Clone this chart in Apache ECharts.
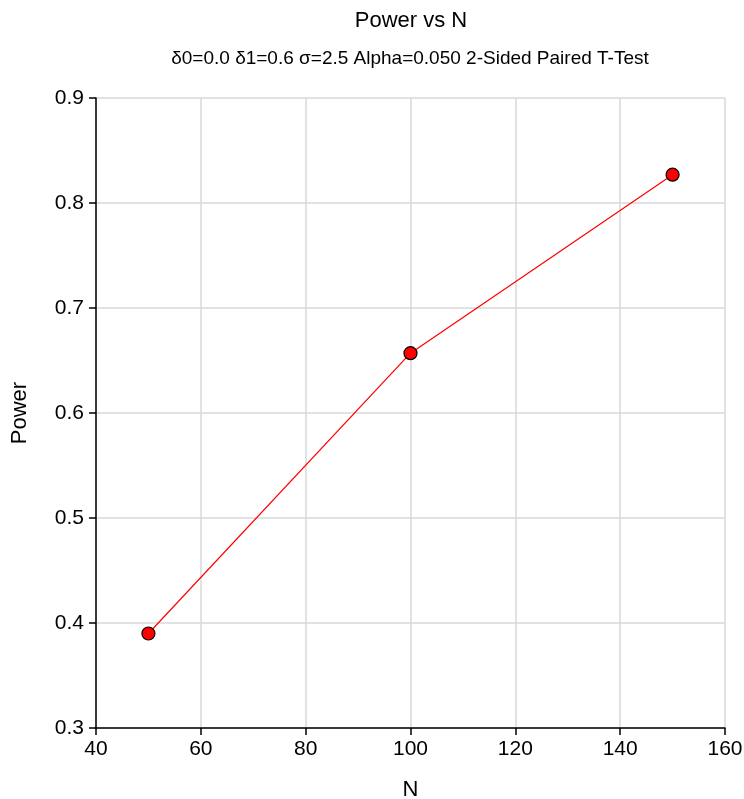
<!DOCTYPE html>
<html><head><meta charset="utf-8">
<script src="https://cdn.jsdelivr.net/npm/echarts@6/dist/echarts.min.js"></script>
<style>html,body{margin:0;padding:0;background:#fff}#c{width:744px;height:799px}</style>
</head><body><div id="c"></div>
<script>
const nValues = [50, 100, 150];
const powerValues = [0.390, 0.657, 0.827];
const titleText = 'Power vs N';
const subtitleText = 'δ0=0.0 δ1=0.6 σ=2.5 Alpha=0.050 2-Sided Paired T-Test';

const chart = echarts.init(document.getElementById('c'));
const font = 'Arial, "Liberation Sans", sans-serif';
chart.setOption({
  animation: false,
  backgroundColor: '#fff',
  title: [
    {text: titleText, left: 406, textAlign: 'center', top: 5, textStyle: {fontFamily: font, fontSize: 22, fontWeight: 'normal', color: '#000'}},
    {text: subtitleText, left: 405, textAlign: 'center', top: 44, textStyle: {fontFamily: font, fontSize: 19, fontWeight: 'normal', color: '#000'}}
  ],
  grid: {left: 96, right: 19, top: 98, bottom: 71, containLabel: false, outerBoundsMode: 'none'},
  xAxis: {
    type: 'value', min: 40, max: 160, interval: 20,
    name: 'N', nameLocation: 'middle', nameGap: 51,
    nameTextStyle: {fontFamily: font, fontSize: 22, color: '#000'},
    axisLine: {show: true, lineStyle: {color: '#000', width: 1.5}},
    axisTick: {show: true, length: 7, lineStyle: {color: '#000', width: 1.5}},
    axisLabel: {fontFamily: font, fontSize: 21, color: '#000', margin: 11},
    splitLine: {show: true, lineStyle: {color: '#d9d9d9', width: 1.5}}
  },
  yAxis: {
    type: 'value', min: 0.3, max: 0.9, interval: 0.1,
    name: 'Power', nameLocation: 'middle', nameGap: 65, nameRotate: 90,
    nameTextStyle: {fontFamily: font, fontSize: 22, color: '#000'},
    axisLine: {show: true, lineStyle: {color: '#000', width: 1.5}},
    axisTick: {show: true, length: 7, lineStyle: {color: '#000', width: 1.5}},
    axisLabel: {fontFamily: font, fontSize: 21, color: '#000', margin: 12, formatter: v => v.toFixed(1)},
    splitLine: {show: true, lineStyle: {color: '#d9d9d9', width: 1.5}}
  },
  series: [{
    type: 'line',
    data: nValues.map((n, i) => [n, powerValues[i]]),
    lineStyle: {color: '#ff0000', width: 1.2},
    symbol: 'circle', symbolSize: 13,
    itemStyle: {color: '#ff0000', borderColor: '#000', borderWidth: 1.2}
  }]
});
</script></body></html>
